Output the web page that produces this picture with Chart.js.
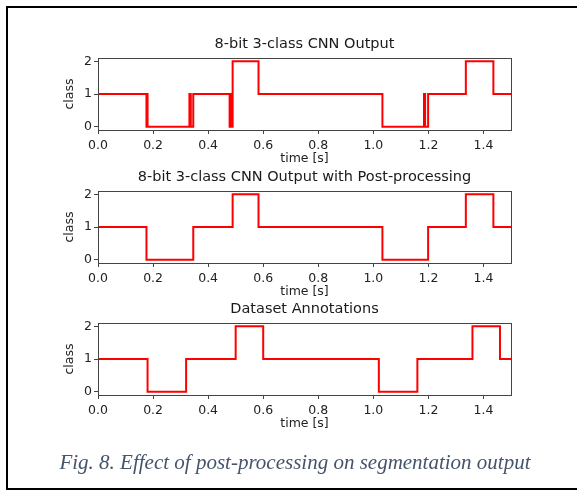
<!DOCTYPE html>
<html>
<head>
<meta charset="utf-8">
<script src="https://cdn.jsdelivr.net/npm/chart.js@4"></script>
<style>
  html, body { margin: 0; padding: 0; background: #fff; overflow: hidden; }
  body { width: 577px; height: 492px; position: relative; }
  .frame { position: absolute; left: 6px; top: 6px; width: 600px; height: 480px;
           border: 2px solid #000; border-right: none; }
  canvas { position: absolute; left: 0; }
  .caption { position: absolute; left: 7px; width: 576px; top: 452px; text-align: center;
             font-family: "Liberation Serif", serif; font-style: italic; font-size: 21px;
             line-height: 21px; color: #44546a; white-space: nowrap; }
</style>
</head>
<body>
<div class="frame"></div>
<canvas id="c1" width="577" height="140" style="top:30px"></canvas>
<canvas id="c2" width="577" height="140" style="top:163px"></canvas>
<canvas id="c3" width="577" height="140" style="top:295px"></canvas>
<div class="caption">Fig. 8. Effect of post-processing on segmentation output</div>
<script>
// step data: time where the class changes, and the class from that time on
const cnnTime  = [0, 0.176, 0.178, 0.180, 0.332, 0.337, 0.346, 0.478, 0.481, 0.484, 0.489, 0.583, 1.033, 1.184, 1.188, 1.199, 1.336, 1.436, 1.5];
const cnnClass = [1, 0, 1, 0, 1, 0, 1, 0, 1, 0, 2, 1, 0, 1, 0, 1, 2, 1, 1];

const postTime  = [0, 0.176, 0.346, 0.489, 0.583, 1.033, 1.199, 1.336, 1.436, 1.5];
const postClass = [1, 0, 1, 2, 1, 0, 1, 2, 1, 1];

const annTime  = [0, 0.18, 0.32, 0.50, 0.60, 1.02, 1.16, 1.36, 1.46, 1.5];
const annClass = [1, 0, 1, 2, 1, 0, 1, 2, 1, 1];

const titles = ['8-bit 3-class CNN Output', '8-bit 3-class CNN Output with Post-processing', 'Dataset Annotations'];
const xTicks = [0.0, 0.2, 0.4, 0.6, 0.8, 1.0, 1.2, 1.4];
const yTicks = [0, 1, 2];

const FONT = 'DejaVu Sans';

// matplotlib style box around the plot area
const boxPlugin = {
    id: 'box',
    afterDraw(chart) {
        const a = chart.chartArea, c = chart.ctx;
        c.save();
        c.strokeStyle = '#444';
        c.lineWidth = 1;
        c.strokeRect(Math.round(a.left) + 0.5, Math.round(a.top) + 0.5,
                     Math.round(a.right - a.left), Math.round(a.bottom - a.top));
        c.restore();
    }
};

function makeChart(id, times, classes, title) {
    const pts = times.map((t, i) => ({ x: t, y: classes[i] }));
    return new Chart(document.getElementById(id).getContext('2d'), {
        type: 'line',
        data: {
            datasets: [{
                data: pts,
                borderColor: '#ff0000',
                borderWidth: 2,
                pointRadius: 0,
                stepped: 'before',
                fill: false
            }]
        },
        options: {
            responsive: false,
            animation: false,
            layout: { padding: { left: 60, right: 66, top: 0, bottom: 0 } },
            plugins: {
                legend: { display: false },
                tooltip: { enabled: false },
                title: { display: false }
            },
            scales: {
                x: {
                    type: 'linear', min: 0, max: 1.5,
                    afterBuildTicks: s => { s.ticks = xTicks.map(v => ({ value: v })); },
                    afterFit: s => { s.height = 40; },
                    border: { display: false },
                    grid: { drawOnChartArea: false, drawTicks: true, tickLength: 4, color: '#444' },
                    ticks: { color: '#222', padding: 4, maxRotation: 0,
                             font: { family: FONT, size: 12.5 },
                             callback: v => v.toFixed(1) },
                    title: { display: true, text: 'time [s]', color: '#222',
                             font: { family: FONT, size: 12.5 }, padding: { top: 0, bottom: 4 } }
                },
                // top axis only carries the subplot title, centred over the plot area
                top: {
                    type: 'linear', position: 'top', min: 0, max: 1.5,
                    afterFit: s => { s.height = 28; },
                    border: { display: false },
                    grid: { display: false },
                    ticks: { display: false },
                    title: { display: true, text: title, color: '#1a1a1a',
                             font: { family: FONT, size: 14.5 }, padding: { top: 6, bottom: 0 } }
                },
                y: {
                    type: 'linear', min: -0.1, max: 2.1,
                    afterBuildTicks: s => { s.ticks = yTicks.map(v => ({ value: v })); },
                    afterFit: s => { s.width = 38; },
                    border: { display: false },
                    grid: { drawOnChartArea: false, drawTicks: true, tickLength: 4, color: '#444' },
                    ticks: { color: '#222', padding: 2, font: { family: FONT, size: 12.5 } },
                    title: { display: true, text: 'class', color: '#222',
                             font: { family: FONT, size: 12.5 }, padding: { top: 2, bottom: 0 } }
                }
            }
        },
        plugins: [boxPlugin]
    });
}

makeChart('c1', cnnTime, cnnClass, titles[0]);
makeChart('c2', postTime, postClass, titles[1]);
makeChart('c3', annTime, annClass, titles[2]);
</script>
</body>
</html>
